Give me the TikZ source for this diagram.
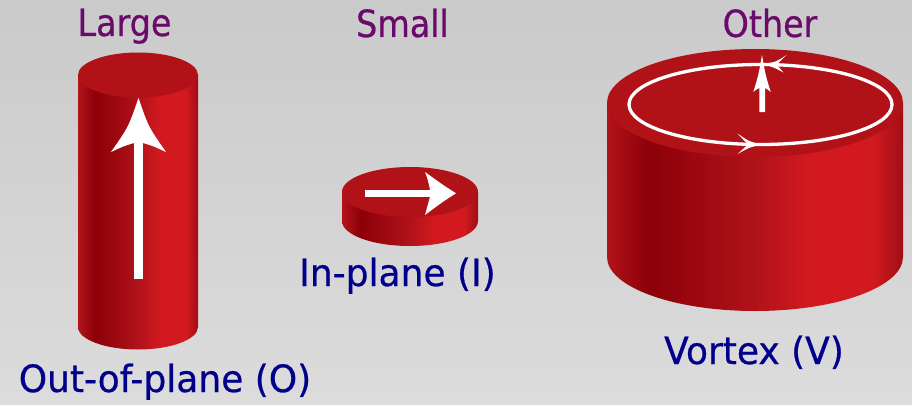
\documentclass[tikz,border=0pt]{standalone}
\usepackage{fontspec}
\setmainfont{DejaVu Sans}
\newfontfamily\ttlfont{DejaVu Sans}[FakeStretch=0.89,FakeBold=0.6]
\newfontfamily\lblfont{DejaVu Sans}[FakeStretch=0.96,FakeBold=0.6]
\definecolor{bgtop}{HTML}{CACACA}
\definecolor{bgbot}{HTML}{DCDCDC}
\definecolor{ttlcol}{RGB}{108,10,108}
\definecolor{lblcol}{RGB}{0,0,140}
\definecolor{topface}{RGB}{176,18,24}
\definecolor{edgeL}{RGB}{178,20,26}
\definecolor{dkred}{RGB}{140,0,8}
\definecolor{mdred}{RGB}{176,18,26}
\definecolor{brred}{RGB}{210,25,32}
\definecolor{edgeR}{RGB}{160,14,20}
\pgfdeclarehorizontalshading{cylside}{100bp}{color(0bp)=(edgeL); color(25bp)=(edgeL); color(32bp)=(dkred); color(50bp)=(mdred); color(59bp)=(brred); color(70bp)=(brred); color(75bp)=(edgeR); color(100bp)=(edgeR)}
\newcommand\mycyl[5]{% cx, ytop, ybot, rx, ry
  \shade[shading=cylside] ({#1-#4},#2) -- ({#1-#4},#3) arc[start angle=180,end angle=0,x radius=#4,y radius=#5] -- ({#1+#4},#2) -- cycle;
  \fill[topface] (#1,#2) ellipse[x radius=#4,y radius=#5];
}
\tikzset{
  ttl/.style={font=\ttlfont\fontsize{37.5}{40}\selectfont, text=ttlcol, anchor=base, inner sep=0pt},
  lbl/.style={font=\lblfont\fontsize{37.5}{40}\selectfont, text=lblcol, anchor=base, inner sep=0pt},
  wht/.style={fill=white, draw=none}
}
\begin{document}
\begin{tikzpicture}[x=1pt,y=-1pt]
\useasboundingbox (0,0) rectangle (912,404);
\shade[top color=bgtop, bottom color=bgbot] (0,0) rectangle (912,404);

% titles
\node[ttl] (tL) at (124.5,36) {Large};
\node[ttl] (tS) at (402.5,37) {Small};
\node[ttl] (tO) at (770,37) {Other};

% large cylinder
\mycyl{138}{75}{327}{60}{22.5}
\fill[wht] (134,140) rectangle (143,279);
\fill[wht] (138.5,98) .. controls (148.5,127) .. (166,152) .. controls (153,146) .. (143,143) -- (134,143) .. controls (124,146) .. (111,152) .. controls (128.5,127) .. (138.5,98) -- cycle;

% small disk
\mycyl{410}{192}{221}{68}{25}
\fill[wht] (365,190) rectangle (432,196.7);
\fill[wht] (456,193.3) .. controls (443,185) .. (425,172) .. controls (428,180) .. (430,190) -- (430,196.7) .. controls (428,206) .. (425,215) .. controls (443,201.6) .. (456,193.3) -- cycle;

% vortex cylinder
\mycyl{755}{103}{257}{148}{54}
\draw[white, line width=3.3pt] (760.5,104.5) ellipse[x radius=131.5, y radius=40];
\fill[wht] (762,55) .. controls (765.5,75) .. (770.7,92) .. controls (767,89) .. (765,88) -- (765,112) -- (759.3,112) -- (759.3,88) .. controls (757,89) .. (753.3,92) .. controls (758.5,75) .. (762,55) -- cycle;
\fill[wht] (762.7,64) .. controls (776,62) .. (786.5,55) -- (776.7,64.5) -- (783.5,72.5) .. controls (773,67) .. (762.7,64) -- cycle;
\fill[wht] (762,144.5) .. controls (749,141.5) .. (737.5,133.5) -- (748,144.5) -- (737.5,154) .. controls (749,147.5) .. (762,144.5) -- cycle;

% labels
\node[lbl] (lI) at (397.5,286) {In-plane (I)};
\node[lbl] (lO) at (165,392) {Out-of-plane (O)};
\node[lbl] (lV) at (754,364) {Vortex (V)};
\end{tikzpicture}
\end{document}
